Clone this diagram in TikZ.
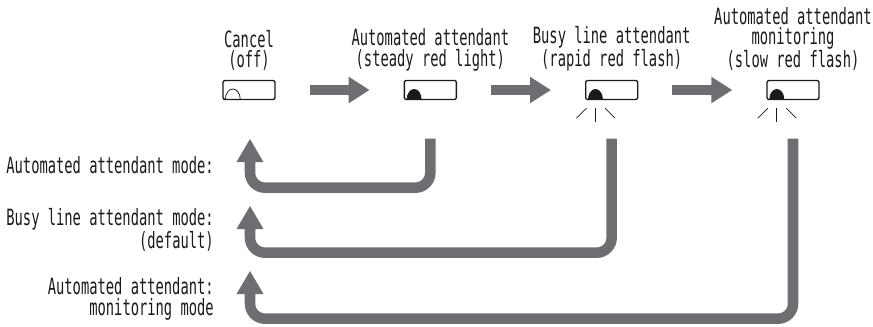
\documentclass[tikz,border=0pt]{standalone}
\usepackage{fontspec}
\newfontfamily\lblfont[FakeStretch=0.615]{DejaVu Sans Mono}
\usetikzlibrary{arrows.meta,positioning,calc}
\definecolor{ink}{HTML}{1A1A1A}
\definecolor{bar}{HTML}{6D6E71}
\tikzset{
  lamp/.style={
    draw=ink, line width=1pt, rounded corners=1.5pt,
    minimum width=39pt, minimum height=14.25pt, inner sep=0pt
  },
  lbl/.style={
    font=\lblfont\fontsize{16.8}{15.2}\selectfont,
    text=ink, align=center, inner sep=0pt
  },
  side/.style={lbl, align=right, anchor=east},
  fwd/.style={
    draw=bar, line width=7.5pt,
    -{Triangle[length=15.75pt, width=18.75pt]},
    shorten <=25.5pt, shorten >=25.5pt
  },
  back/.style={
    draw=bar, line width=7.9pt, rounded corners=11.25pt,
    -{Triangle[length=17.6pt, width=19pt]}
  },
  ray/.style={draw=ink, line width=0.55pt}
}

\begin{document}
\begin{tikzpicture}[x=0.75pt, y=0.75pt]
  \useasboundingbox (0,0) rectangle (873,-326);

  \node[lamp] (a) at (249,-90) {};
  \node[lamp, right=96pt of a] (b) {};
  \node[lamp, right=96pt of b] (c) {};
  \node[lamp, right=96pt of c] (d) {};

  \node[lbl, above=6.5pt of a] (ta) {Cancel\\(off)};
  \node[lbl, above=6.5pt of b] (tb) {Automated attendant\\(steady red light)};
  \node[lbl, above=6.5pt of c] (tc) {Busy line attendant\\(rapid red flash)};
  \node[lbl, above=6.5pt of d] (td) {Automated attendant\\monitoring\\(slow red flash)};

  % bulbs: open for off, filled for lit
  \draw[ink, line width=0.6pt] ([xshift=2.25pt, yshift=0.5pt]a.south west)
    arc[start angle=180, end angle=0, x radius=5.6pt, y radius=7.9pt];
  \foreach \n in {b,c,d}
    \fill[ink] ([xshift=2.25pt, yshift=0.5pt]\n.south west)
      arc[start angle=180, end angle=0, x radius=5.6pt, y radius=7.9pt];

  % flashing marks
  \foreach \n in {c,d} {
    \coordinate (\n0) at ($(\n.south west)+(10.5,0)$);
    \draw[ray] ($(\n0)+(-9,-8)$) -- ($(\n0)+(-19,-18)$);
    \draw[ray] ($(\n0)+(0,-8)$) -- ($(\n0)+(0,-22)$);
    \draw[ray] ($(\n0)+(9.5,-8)$) -- ($(\n0)+(19.5,-18)$);
  }

  \foreach \s/\t in {a/b,b/c,c/d}
    \draw[fwd] (\s) -- (\t);

  \coordinate (s1) at ($(b.south)+(0,-38.5)$);
  \coordinate (s2) at ($(c.south)+(0,-38.5)$);
  \coordinate (s3) at ($(d.south)+(0,-38.5)$);
  \coordinate (t1) at ($(a.south)+(1,-38.5)$);
  \coordinate (t2) at ($(a.south)+(1,-105.5)$);
  \coordinate (t3) at ($(a.south)+(1,-170.5)$);

  \draw[back] (s1) -- ++(0,-49) -| (t1);
  \draw[back] (s2) -- ++(0,-114) -| (t2);
  \draw[back] (s3) -- ++(0,-180) -| (t3);

  \node[side] (m1) at (214,-165) {Automated attendant mode:};
  \node[side] (m2) at (214,-230) {Busy line attendant mode:\\(default)};
  \node[side] (m3) at (214,-299) {Automated attendant:\\monitoring mode};
\end{tikzpicture}
\end{document}
